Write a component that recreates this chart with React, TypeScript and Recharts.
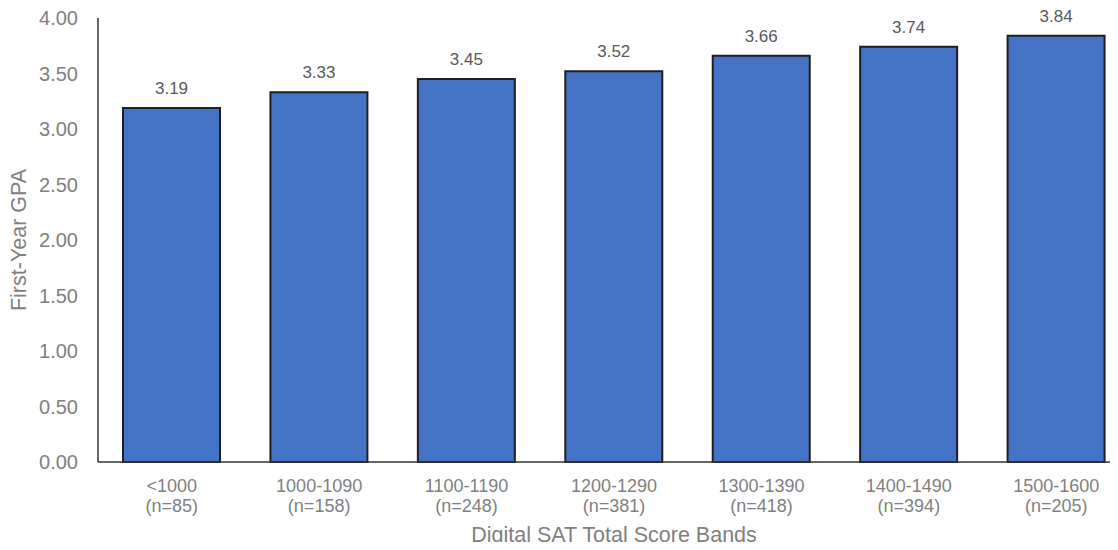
import { Bar, BarChart, LabelList, XAxis, YAxis } from 'recharts'

const bands = ['<1000', '1000-1090', '1100-1190', '1200-1290', '1300-1390', '1400-1490', '1500-1600']
const counts = ['(n=85)', '(n=158)', '(n=248)', '(n=381)', '(n=418)', '(n=394)', '(n=205)']
const gpa = [3.19, 3.33, 3.45, 3.52, 3.66, 3.74, 3.84]
const yTicks = [0, 0.5, 1, 1.5, 2, 2.5, 3, 3.5, 4]

const data = bands.map((band, i) => ({ band, n: counts[i], gpa: gpa[i] }))

const FONT = '"Liberation Sans", Arial, sans-serif'
const GRAY = '#808080'

function BandTick({ x, y, payload, index }: any) {
  return (
    <text x={x} y={y} textAnchor="middle" fill={GRAY} fontSize={18} fontFamily={FONT}>
      <tspan x={x} dy={28}>{payload.value}</tspan>
      <tspan x={x} dy={20}>{counts[index]}</tspan>
    </text>
  )
}

function XTitle({ viewBox }: any) {
  const cx = viewBox.x + viewBox.width / 2
  return (
    <text x={cx} y={542} textAnchor="middle" fill={GRAY} fontSize={21.5} fontFamily={FONT}>
      Digital SAT Total Score Bands
    </text>
  )
}

function YTitle({ viewBox }: any) {
  const cy = viewBox.y + viewBox.height / 2
  return (
    <text
      x={26}
      y={cy}
      transform={`rotate(-90, 26, ${cy})`}
      textAnchor="middle"
      fill={GRAY}
      fontSize={21.5}
      fontFamily={FONT}
    >
      First-Year GPA
    </text>
  )
}

export default function App() {
  return (
    <div style={{ margin: -8, width: 1118, height: 550, overflow: 'hidden', background: '#fff' }}>
      <BarChart
        width={1130}
        height={550}
        data={data}
        margin={{ top: 18, right: 0, bottom: 0, left: 0 }}
      >
        <XAxis
          dataKey="band"
          height={88}
          tickSize={0}
          tick={<BandTick />}
          interval={0}
          axisLine={{ stroke: '#333', strokeWidth: 1.5 }}
          label={{ content: <XTitle /> }}
        />
        <YAxis
          width={98}
          domain={[0, 4]}
          ticks={yTicks}
          tickSize={0}
          tickMargin={20}
          tickFormatter={(v) => v.toFixed(2)}
          tick={{ fill: GRAY, fontSize: 20, fontFamily: FONT }}
          axisLine={{ stroke: '#333', strokeWidth: 1.5 }}
          label={{ content: <YTitle /> }}
        />
        <Bar
          dataKey="gpa"
          fill="#4472C4"
          stroke="#1f1f1f"
          strokeWidth={2}
          barSize={97}
          isAnimationActive={false}
        >
          <LabelList
            dataKey="gpa"
            position="top"
            offset={14}
            formatter={(v: any) => Number(v).toFixed(2)}
            fill="#595959"
            fontSize={17}
            fontFamily={FONT}
          />
        </Bar>
      </BarChart>
    </div>
  )
}
